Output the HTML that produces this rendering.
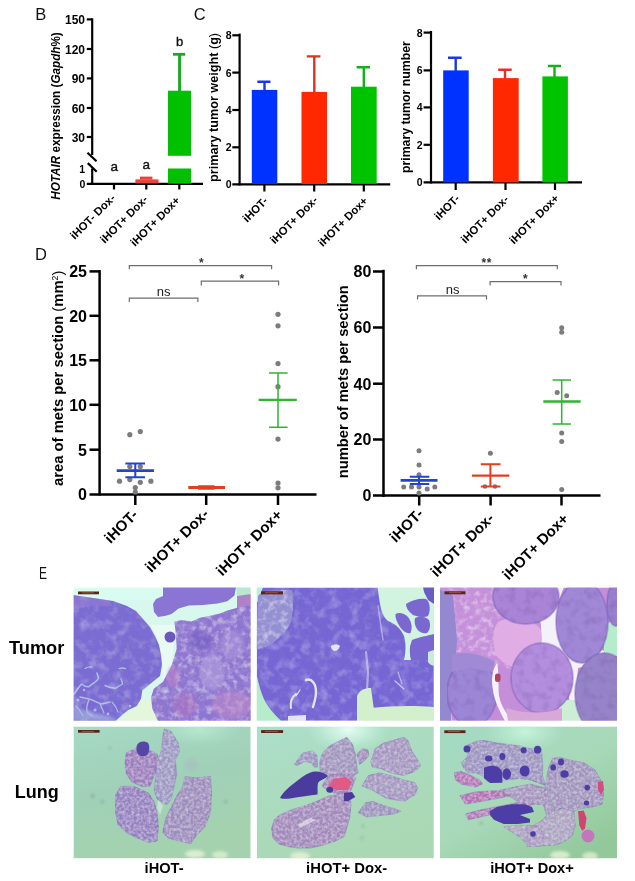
<!DOCTYPE html>
<html><head><meta charset="utf-8"><title>Figure</title>
<style>
html,body{margin:0;padding:0;background:#fff;}
svg{display:block;}
text{font-family:"Liberation Sans",Arial,sans-serif;fill:#000;}
.pl{font-size:16.5px;font-weight:normal;fill:#111;}
.ax line{stroke:#000;stroke-width:2.2;}
.axd line{stroke:#000;stroke-width:2.5;}
.tk text,.tk{font-weight:bold;}
.xl text,.xl{font-weight:bold;}
.yl{font-weight:bold;}
.ab text{fill:#111;stroke:#111;stroke-width:0.35px;}
.st text{fill:#333;}
.ns{fill:#222;}
.lab{font-weight:bold;}
</style></head><body>
<svg width="635" height="881" viewBox="0 0 635 881">
<rect width="635" height="881" fill="#fff"/>
<!-- ===== Panel B ===== -->
<text class="pl" x="35.3" y="19.8">B</text>
<g class="ax">
<line x1="92.2" y1="18.3" x2="92.2" y2="155"/>
<line x1="92.2" y1="168.5" x2="92.2" y2="185"/>
<line x1="87.5" y1="152.7" x2="96.5" y2="161.2"/>
<line x1="87.8" y1="163.1" x2="96.7" y2="171.8"/>
<line x1="86.8" y1="19.4" x2="92.2" y2="19.4"/>
<line x1="86.8" y1="49" x2="92.2" y2="49"/>
<line x1="86.8" y1="78.4" x2="92.2" y2="78.4"/>
<line x1="86.8" y1="108" x2="92.2" y2="108"/>
<line x1="86.8" y1="137" x2="92.2" y2="137"/>
<line x1="86.8" y1="183.8" x2="203" y2="183.8"/>
<line x1="114" y1="184" x2="114" y2="189.5"/>
<line x1="146.3" y1="184" x2="146.3" y2="189.5"/>
<line x1="179.3" y1="184" x2="179.3" y2="189.5"/>
</g>
<g class="tk" font-size="12" text-anchor="end">
<text x="85" y="24.2">150</text>
<text x="85" y="53.6">120</text>
<text x="85" y="83">90</text>
<text x="85" y="112.6">60</text>
<text x="85" y="141.6">30</text>
<text x="85" y="172.5" font-size="10.5">1</text>
<text x="85.3" y="187.6" font-size="10.5">0</text>
</g>
<rect x="135.4" y="179.4" width="23.1" height="4" fill="#e8433d"/>
<rect x="140" y="176.6" width="12.4" height="3" fill="#e8433d"/>
<rect x="168" y="90.7" width="23" height="65.1" fill="#00c000"/>
<rect x="168" y="168.5" width="23" height="15" fill="#00c000"/>
<line x1="179.6" y1="54.3" x2="179.6" y2="91" stroke="#1aaa22" stroke-width="3"/>
<line x1="173" y1="54.3" x2="185.2" y2="54.3" stroke="#1aaa22" stroke-width="2.8"/>
<g class="ab" font-size="13.5">
<text x="110.5" y="170.8">a</text>
<text x="142.6" y="168.9">a</text>
<text x="176" y="46" font-size="13">b</text>
</g><text class="yl" font-size="12" text-anchor="middle" textLength="167.5" lengthAdjust="spacingAndGlyphs" transform="translate(60,116) rotate(-90)"><tspan font-style="italic">HOTAIR</tspan> expression (<tspan font-style="italic">Gapdh</tspan>%)</text>

<!-- ===== Panel C left ===== -->
<text class="pl" x="193.7" y="19.8">C</text>
<g class="ax">
<line x1="239.6" y1="33.6" x2="239.6" y2="185.5"/>
<line x1="232.3" y1="35.3" x2="239.6" y2="35.3"/>
<line x1="232.3" y1="72.6" x2="239.6" y2="72.6"/>
<line x1="232.3" y1="110" x2="239.6" y2="110"/>
<line x1="232.3" y1="147.3" x2="239.6" y2="147.3"/>
<line x1="232.3" y1="184.4" x2="390.2" y2="184.4"/>
<line x1="264.4" y1="185" x2="264.4" y2="191.5"/>
<line x1="314.2" y1="185" x2="314.2" y2="191.5"/>
<line x1="363.8" y1="185" x2="363.8" y2="191.5"/>
</g>
<g class="tk" font-size="10.5" text-anchor="end">
<text x="231.6" y="39.3">8</text>
<text x="231.6" y="76.6">6</text>
<text x="231.6" y="114">4</text>
<text x="231.6" y="151.3">2</text>
<text x="231.6" y="188.4">0</text>
</g>
<rect x="251.8" y="89.9" width="25.5" height="94" fill="#0032ff"/>
<rect x="301.5" y="91.9" width="25.5" height="92" fill="#ff2800"/>
<rect x="351" y="86.7" width="25.7" height="97" fill="#00c300"/>
<g stroke-width="2.4">
<path d="M264.5 90V81.7M257.3 81.7H270.5" stroke="#1a3ae0"/>
<path d="M314.3 92V56.4M306.8 56.4H320.4" stroke="#dc3420"/>
<path d="M363.8 87V67.3M356.6 67.3H370" stroke="#14b01c"/>
</g>
<text class="yl" font-size="12.3" text-anchor="middle" textLength="149" lengthAdjust="spacingAndGlyphs" transform="translate(218,107.4) rotate(-90)">primary tumor weight  <tspan font-weight="normal">(</tspan>g<tspan font-weight="normal">)</tspan></text>

<!-- ===== Panel C right ===== -->
<g class="ax">
<line x1="431" y1="31" x2="431" y2="183.5"/>
<line x1="423.6" y1="32.6" x2="431" y2="32.6"/>
<line x1="423.6" y1="70.4" x2="431" y2="70.4"/>
<line x1="423.6" y1="107.4" x2="431" y2="107.4"/>
<line x1="423.6" y1="144.8" x2="431" y2="144.8"/>
<line x1="423.6" y1="182.4" x2="582" y2="182.4"/>
<line x1="455.7" y1="183" x2="455.7" y2="190"/>
<line x1="505.5" y1="183" x2="505.5" y2="190"/>
<line x1="555" y1="183" x2="555" y2="190"/>
</g>
<g class="tk" font-size="10.5" text-anchor="end">
<text x="422.5" y="36.6">8</text>
<text x="422.5" y="74.4">6</text>
<text x="422.5" y="111.4">4</text>
<text x="422.5" y="148.8">2</text>
<text x="422.5" y="186.4">0</text>
</g>
<rect x="443.2" y="70.4" width="25.5" height="112" fill="#0032ff"/>
<rect x="492.9" y="78.1" width="25.8" height="104.3" fill="#ff2800"/>
<rect x="542.4" y="76.4" width="25.5" height="106" fill="#00c300"/>
<g stroke-width="2.4">
<path d="M455.7 71V57.8M448 57.8H461.7" stroke="#1a3ae0"/>
<path d="M505 79V69.8M498.2 69.8H511.7" stroke="#dc3420"/>
<path d="M554.5 77V66M547.9 66H561" stroke="#14b01c"/>
</g>
<text class="yl" font-size="12.3" text-anchor="middle" transform="translate(410.4,107.1) rotate(-90)">primary tumor number</text>
<!-- ===== Panel D left ===== -->
<text class="pl" x="35" y="259.6">D</text>
<g class="axd">
<line x1="99.6" y1="270" x2="99.6" y2="495.5"/>
<line x1="89.5" y1="271.4" x2="99.6" y2="271.4"/>
<line x1="89.5" y1="315.8" x2="99.6" y2="315.8"/>
<line x1="89.5" y1="360.3" x2="99.6" y2="360.3"/>
<line x1="89.5" y1="404.8" x2="99.6" y2="404.8"/>
<line x1="89.5" y1="449.7" x2="99.6" y2="449.7"/>
<line x1="89.5" y1="494.6" x2="316.5" y2="494.6"/>
<line x1="135.3" y1="495" x2="135.3" y2="505"/>
<line x1="206.2" y1="495" x2="206.2" y2="505"/>
<line x1="278" y1="495" x2="278" y2="505"/>
</g>
<g class="tk" font-size="16" text-anchor="end">
<text x="87" y="277.4">25</text>
<text x="87" y="321.6">20</text>
<text x="87" y="366.1">15</text>
<text x="87" y="410.6">10</text>
<text x="87" y="455.5">5</text>
<text x="87" y="500.2">0</text>
</g>
<g fill="#7c7c7c">
<circle cx="129.8" cy="434.7" r="2.6"/><circle cx="140.3" cy="431.6" r="2.6"/>
<circle cx="129.8" cy="466.5" r="2.6"/><circle cx="140.3" cy="466.5" r="2.6"/>
<circle cx="119.5" cy="481.2" r="2.6"/><circle cx="129.8" cy="479.6" r="2.6"/>
<circle cx="140.3" cy="482.3" r="2.6"/><circle cx="150.9" cy="481.2" r="2.6"/>
<circle cx="135.3" cy="487.5" r="2.6"/><circle cx="135.3" cy="492" r="2.6"/>
<circle cx="278" cy="314.3" r="2.6"/><circle cx="278" cy="325.8" r="2.6"/>
<circle cx="278" cy="363.6" r="2.6"/><circle cx="278" cy="386.7" r="2.6"/>
<circle cx="278" cy="439.1" r="2.6"/><circle cx="278" cy="483" r="2.6"/>
<circle cx="278" cy="487.8" r="2.6"/>
</g>
<g stroke="#2244d0" fill="none">
<path d="M116.7 470.6H154" stroke-width="2.6"/>
<path d="M125.4 463.4H145M125.4 477.2H145M135.3 463.4V477.2" stroke-width="2"/>
</g>
<g stroke="#e0401e" fill="none">
<path d="M188.3 487.5H225" stroke-width="3"/>
<path d="M198 486H214.5M198 489H214.5" stroke-width="1.5"/>
</g>
<g stroke="#2fb52f" fill="none">
<path d="M258.6 399.9H296.8" stroke-width="2.4"/>
<path d="M269 373.1H287.6M269 427.2H287.6M278 373.1V427.2" stroke-width="1.5"/>
</g>
<g stroke="#6e6e6e" fill="none" stroke-width="1.2">
<path d="M129.3 269.3V265.6H271.6V269.3"/>
<path d="M201.3 285.4V281.2H278.6V285.4"/>
<path d="M129.3 301.9V298.2H197.9V301.9"/>
</g>
<g class="st" font-size="12" font-weight="bold" text-anchor="middle">
<text x="201.3" y="266.8">*</text>
<text x="241.8" y="282.8">*</text>
</g>
<text class="ns" x="163.6" y="296.2" font-size="13" text-anchor="middle">ns</text>
<text class="yl" font-size="14.4" text-anchor="middle" textLength="215.4" lengthAdjust="spacingAndGlyphs" transform="translate(63,378.3) rotate(-90)">area of mets per section <tspan font-weight="normal">(</tspan>mm<tspan font-size="8.5" dy="-5" font-weight="normal">2</tspan><tspan dy="5" font-weight="normal">)</tspan></text>

<!-- ===== Panel D right ===== -->
<g class="axd">
<line x1="383.5" y1="269.8" x2="383.5" y2="497"/>
<line x1="373" y1="271.5" x2="383.5" y2="271.5"/>
<line x1="373" y1="327.5" x2="383.5" y2="327.5"/>
<line x1="373" y1="383.7" x2="383.5" y2="383.7"/>
<line x1="373" y1="439.5" x2="383.5" y2="439.5"/>
<line x1="373" y1="495.4" x2="600.5" y2="495.4"/>
<line x1="419.2" y1="496" x2="419.2" y2="505.5"/>
<line x1="490.6" y1="496" x2="490.6" y2="505.5"/>
<line x1="561.5" y1="496" x2="561.5" y2="505.5"/>
</g>
<g class="tk" font-size="16" text-anchor="end">
<text x="371.3" y="277.3">80</text>
<text x="371.3" y="333.3">60</text>
<text x="371.3" y="389.5">40</text>
<text x="371.3" y="445.3">20</text>
<text x="371.3" y="501.2">0</text>
</g>
<g fill="#7c7c7c">
<circle cx="419" cy="450.8" r="2.5"/><circle cx="419" cy="465.1" r="2.5"/>
<circle cx="419" cy="474.7" r="2.5"/><circle cx="403.7" cy="487" r="2.5"/>
<circle cx="411.5" cy="487" r="2.5"/><circle cx="419" cy="487" r="2.5"/>
<circle cx="427.2" cy="489" r="2.5"/><circle cx="434.8" cy="487" r="2.5"/>
<circle cx="419" cy="493.1" r="2.5"/>
<circle cx="490.4" cy="453.2" r="2.5"/><circle cx="485" cy="486.5" r="2.3"/><circle cx="495" cy="486.5" r="2.3"/>
<circle cx="561.7" cy="327.7" r="2.5"/><circle cx="561.7" cy="332.2" r="2.5"/>
<circle cx="557.2" cy="392.5" r="2.5"/><circle cx="566.7" cy="395.7" r="2.5"/>
<circle cx="561.7" cy="433" r="2.5"/><circle cx="561.7" cy="441.6" r="2.5"/>
<circle cx="561.7" cy="489.5" r="2.5"/>
</g>
<g stroke="#2244d0" fill="none">
<path d="M400.6 480.4H437.5" stroke-width="2.6"/>
<path d="M409.8 476.8H429.3M409.8 483.9H429.3M419 476.8V483.9" stroke-width="2"/>
</g>
<g stroke="#e0401e" fill="none">
<path d="M472 475.6H509.3" stroke-width="2.4"/>
<path d="M480.8 464.3H500.5M480.8 486.4H500.5M490.4 464.3V486.4" stroke-width="2"/>
</g>
<g stroke="#2fb52f" fill="none">
<path d="M543.3 401.5H580.6" stroke-width="2.4"/>
<path d="M552.6 379.9H571M552.6 424H571M561.7 379.9V424" stroke-width="1.5"/>
</g>
<g stroke="#6e6e6e" fill="none" stroke-width="1.2">
<path d="M416.4 269.3V265.6H557.3V269.3"/>
<path d="M490.1 285.4V281.7H561V285.4"/>
<path d="M417.6 299.6V295.9H486.5V299.6"/>
</g>
<g class="st" font-size="12" font-weight="bold" text-anchor="middle">
<text x="486.8" y="266.8" letter-spacing="0.6">**</text>
<text x="525.3" y="282.8">*</text>
</g>
<text class="ns" x="452.7" y="294" font-size="13" text-anchor="middle">ns</text>
<text class="yl" font-size="14.5" text-anchor="middle" textLength="193" lengthAdjust="spacingAndGlyphs" transform="translate(348,381.8) rotate(-90)">number of mets per section</text>
<g class="xl" text-anchor="end">
<text font-size="11.31" transform="translate(116.1,198.8) rotate(-45)">iHOT- Dox-</text>
<text font-size="11.31" transform="translate(148.5,200.2) rotate(-45)">iHOT+ Dox-</text>
<text font-size="11.31" transform="translate(180.7,201.2) rotate(-45)">iHOT+ Dox+</text>
<text font-size="11.31" transform="translate(268.5,201.7) rotate(-45)">iHOT-</text>
<text font-size="11.31" transform="translate(318.4,200.9) rotate(-45)">iHOT+ Dox-</text>
<text font-size="11.31" transform="translate(368.5,201.6) rotate(-45)">iHOT+ Dox+</text>
<text font-size="11.31" transform="translate(460.4,199.4) rotate(-45)">iHOT-</text>
<text font-size="11.31" transform="translate(509.3,200.2) rotate(-45)">iHOT+ Dox-</text>
<text font-size="11.31" transform="translate(559.7,199.0) rotate(-45)">iHOT+ Dox+</text>
<text font-size="15.08" transform="translate(138.9,515.8) rotate(-45)">iHOT-</text>
<text font-size="15.08" transform="translate(209.7,515.0) rotate(-45)">iHOT+ Dox-</text>
<text font-size="15.08" transform="translate(283.2,515.8) rotate(-45)">iHOT+ Dox+</text>
<text font-size="15.08" transform="translate(424.3,514.7) rotate(-45)">iHOT-</text>
<text font-size="15.08" transform="translate(495.1,519.3) rotate(-45)">iHOT+ Dox-</text>
<text font-size="15.08" transform="translate(569.5,519.7) rotate(-45)">iHOT+ Dox+</text>
</g>
<defs>
<clipPath id="c1"><rect x="73.6" y="587.6" width="177.1" height="133.2"/></clipPath>
<clipPath id="c2"><rect x="256.7" y="587.5" width="177.3" height="133.3"/></clipPath>
<clipPath id="c3"><rect x="440" y="587.5" width="177" height="133.3"/></clipPath>
<clipPath id="c4"><rect x="73.6" y="726.4" width="177.1" height="132"/></clipPath>
<clipPath id="c5"><rect x="256.7" y="726.4" width="177.3" height="132"/></clipPath>
<clipPath id="c6"><rect x="440" y="726.4" width="177" height="132"/></clipPath>
<filter id="tx" x="0" y="0" width="1" height="1">
<feTurbulence type="fractalNoise" baseFrequency="0.45" numOctaves="2" seed="3" result="n"/>
<feColorMatrix in="n" type="matrix" values="0 0 0 0 1  0 0 0 0 1  0 0 0 0 1  0.55 0 0 0 -0.2" result="w"/>
<feComposite in="w" in2="SourceGraphic" operator="in" result="wi"/>
<feMerge><feMergeNode in="SourceGraphic"/><feMergeNode in="wi"/></feMerge>
</filter>
<filter id="tx2" x="0" y="0" width="1" height="1">
<feTurbulence type="fractalNoise" baseFrequency="0.12" numOctaves="2" seed="7" result="n"/>
<feColorMatrix in="n" type="matrix" values="0 0 0 0 0.2  0 0 0 0 0.1  0 0 0 0 0.4  0 1.0 0 0 -0.45" result="w"/>
<feComposite in="w" in2="SourceGraphic" operator="in" result="wi"/>
<feMerge><feMergeNode in="SourceGraphic"/><feMergeNode in="wi"/></feMerge>
</filter>
<filter id="txl" x="0" y="0" width="1" height="1">
<feTurbulence type="fractalNoise" baseFrequency="0.35" numOctaves="2" seed="11" result="n"/>
<feColorMatrix in="n" type="matrix" values="0 0 0 0 0.95  0 0 0 0 0.93  0 0 0 0 1  0.85 0 0 0 -0.3" result="w"/>
<feComposite in="w" in2="SourceGraphic" operator="in" result="wi"/>
<feColorMatrix in="n" type="matrix" values="0 0 0 0 0.35  0 0 0 0 0.25  0 0 0 0 0.55  0 0 0.8 0 -0.4" result="d"/>
<feComposite in="d" in2="SourceGraphic" operator="in" result="di"/>
<feMerge><feMergeNode in="SourceGraphic"/><feMergeNode in="wi"/><feMergeNode in="di"/></feMerge>
</filter>
<filter id="txb" x="0" y="0" width="1" height="1">
<feTurbulence type="fractalNoise" baseFrequency="0.16" numOctaves="3" seed="5" result="n"/>
<feColorMatrix in="n" type="matrix" values="0 0 0 0 0.94  0 0 0 0 0.9  0 0 0 0 1  1.1 0 0 0 -0.5" result="w"/>
<feComposite in="w" in2="SourceGraphic" operator="in" result="wi"/>
<feColorMatrix in="n" type="matrix" values="0 0 0 0 0.42  0 0 0 0 0.3  0 0 0 0 0.72  0 0 1.1 0 -0.52" result="d"/>
<feComposite in="d" in2="SourceGraphic" operator="in" result="di"/>
<feMerge><feMergeNode in="SourceGraphic"/><feMergeNode in="wi"/><feMergeNode in="di"/></feMerge>
</filter>
<filter id="txs" x="0" y="0" width="1" height="1">
<feTurbulence type="fractalNoise" baseFrequency="0.1" numOctaves="3" seed="21" result="n"/>
<feColorMatrix in="n" type="matrix" values="0 0 0 0 0.7  0 0 0 0 0.66  0 0 0 0 0.95  0.7 0 0 0 -0.33" result="w"/>
<feComposite in="w" in2="SourceGraphic" operator="in" result="wi"/>
<feColorMatrix in="n" type="matrix" values="0 0 0 0 0.3  0 0 0 0 0.25  0 0 0 0 0.6  0 0 0.6 0 -0.32" result="d"/>
<feComposite in="d" in2="SourceGraphic" operator="in" result="di"/>
<feMerge><feMergeNode in="SourceGraphic"/><feMergeNode in="wi"/><feMergeNode in="di"/></feMerge>
</filter>
<filter id="bl"><feGaussianBlur stdDeviation="0.7"/></filter>
<filter id="bl2"><feGaussianBlur stdDeviation="1.5"/></filter>
<linearGradient id="g4" x1="0" y1="0" x2="0.3" y2="1"><stop offset="0" stop-color="#a6dac4"/><stop offset="0.5" stop-color="#a0d0b8"/><stop offset="1" stop-color="#a4d2ae"/></linearGradient>
<linearGradient id="g5" x1="0" y1="0" x2="0.4" y2="1"><stop offset="0" stop-color="#acdfca"/><stop offset="1" stop-color="#aad8b4"/></linearGradient>
<linearGradient id="g6" x1="0" y1="0" x2="0.8" y2="1"><stop offset="0" stop-color="#a4dac4"/><stop offset="0.55" stop-color="#a8d8b8"/><stop offset="1" stop-color="#92c89a"/></linearGradient>
<radialGradient id="s1"><stop offset="0" stop-color="#eafff6" stop-opacity="0.95"/><stop offset="0.45" stop-color="#d8f8ea" stop-opacity="0.6"/><stop offset="1" stop-color="#c0f0d8" stop-opacity="0"/></radialGradient>
<radialGradient id="s2"><stop offset="0" stop-color="#c8f8dc" stop-opacity="0.9"/><stop offset="1" stop-color="#c0f0d8" stop-opacity="0"/></radialGradient>
</defs>
<!-- image 1: tumor iHOT- -->
<g clip-path="url(#c1)"><g filter="url(#bl)">
<rect x="73.3" y="587.5" width="177.4" height="133.3" fill="#d8f8ee"/>
<path d="M73 600 L73 587 L240 587 L240 600 Z" fill="#d8fcf2"/>
<path d="M150 625 C160 640 165 660 163 680 L152 700 L150 721 L160 721 L172 660 L176 625 Z" fill="#e8faf2"/>
<path d="M140 700 L160 700 L160 721 L120 721 Z" fill="#e4f6dc"/>
<g filter="url(#txs)">
<path d="M73 595 L93 598 L113 601 L127 606 L136 611 L143 619 L150 627 L155 636 L159 645 L161 655 L162 665 L160 676 L149.5 684.6 L142.4 690.3 L141 698.8 L136.8 706 L128.3 710 L122.6 714.4 L115.5 721 L73 721 Z" fill="#7a6cd2"/>
</g>
<path d="M73 596 L93 598 L110 601 L112 606 L90 606 L73 610 Z" fill="#9a80d0" opacity="0.5"/>
<g fill="none" stroke="#c4e0ea" stroke-linecap="round" stroke-linejoin="round" opacity="0.7" filter="url(#bl)">
<path d="M74 694 Q78 688 81.5 684 Q85 687 88.6 686.8 Q92 684 94.3 682.6 Q97 681 98.5 678.3 Q98 676 97 673" stroke-width="1.6"/>
<path d="M80 697 Q86 698 91.4 699.6 Q96 702 101.3 703.9 Q106 703 110 702" stroke-width="1.5"/>
<path d="M105 685.5 Q110 688 115.5 688.3 Q119 686 122.6 684 Q122 681 121 679" stroke-width="1.4"/>
<path d="M85 668.5 Q88 666.5 92 667" stroke-width="1.3"/>
<path d="M119 668.5 Q122 667.5 125.5 668.5" stroke-width="1.3"/>
<path d="M89 700 Q86 706 87 712 Q89 715 93 716" stroke-width="1.3"/>
<path d="M100 704 Q102 708 104 713" stroke-width="1.2"/>
<path d="M112 702 Q116 706 118 712" stroke-width="1.1"/>
<path d="M76 706 Q80 710 83 716" stroke-width="1.2"/>
</g>
<g fill="#c8e4ec" opacity="0.65" filter="url(#bl)">
<circle cx="78" cy="700" r="1.6"/><circle cx="95" cy="710" r="1.5"/><circle cx="108" cy="714" r="1.4"/><circle cx="84" cy="690" r="1.2"/><circle cx="130" cy="706" r="1.3"/>
</g>
<path d="M73 706 L90 712 L110 716 L120 721 L73 721 Z" fill="#a8b8e0" opacity="0.6" filter="url(#bl2)"/>
<path d="M153 604 L156 599 L163 596 L163 587 L236 587 L234.5 595.6 L227.4 601.3 L217.3 603.5 L203 605 L188.7 605.6 L178.6 608.5 L171.5 614 L165.7 615.7 L158 617 L154 612 Z" fill="#8a74d4"/>
<path d="M236 587 L251 587 L251 595 L237 596 Z" fill="#b8e8d0"/>
<path d="M237 596 L251 594 L251 609 L237 608.5 Z" fill="#b080c8"/>
<g filter="url(#txb)">
<path d="M174.3 621.4 L181.5 620 L191.5 621.4 L200 617.8 L210 615.7 L220 613.5 L227.4 610.6 L234.5 608.5 L240 607 L251 605 L251 721 L158 721 L152.4 708.7 L151 697.4 L153.8 688.8 L163 681.8 L166 676 L171.5 666 L176.7 648.7 L176 635 Z" fill="#8e76d0"/>
</g>
<g filter="url(#bl2)">
<ellipse cx="173" cy="677" rx="6" ry="11" fill="#c080c8" opacity="0.55"/>
<ellipse cx="212" cy="672" rx="12" ry="18" fill="#b4a4e0" opacity="0.55"/>
<ellipse cx="232" cy="705" rx="20" ry="14" fill="#c088c8" opacity="0.55"/>
<ellipse cx="185" cy="705" rx="12" ry="12" fill="#b070c0" opacity="0.5"/>
<ellipse cx="232" cy="645" rx="12" ry="14" fill="#b4a0dc" opacity="0.45"/>
<ellipse cx="200" cy="640" rx="12" ry="10" fill="#6e58c0" opacity="0.5"/>
</g>
<circle cx="170" cy="637" r="5.5" fill="#6a58c0"/>
</g>
<rect x="78" y="591.5" width="21" height="2.8" fill="#5a2418"/>
<rect x="82" y="592.5" width="12" height="0.8" fill="#a06050"/>
</g>
<!-- image 2: tumor iHOT+ Dox- -->
<g clip-path="url(#c2)"><g filter="url(#bl)">
<g filter="url(#txs)"><rect x="256.7" y="587.5" width="177" height="133.3" fill="#7666d4"/></g>
<path d="M256 587 L263 587 L258 602 L256 602 Z" fill="#b8f0d8"/>
<g filter="url(#txb)">
<path d="M258 596 C262 591 270 590 292 590 C294 600 293 612 291 622 C286 632 278 640 268 646 C263 648 258 649 256 649 Z" fill="#9290d2"/>
</g>
<path d="M256 671 C258 682 261 694 266 703 C270 710 276 716 281.2 721 L256 721 Z" fill="#b6eccc"/>
<path d="M377.5 587 L425 587 C428 590 432 596 434 600 L434 640 C430 636 420 637 412 640 C409 648 410 655 411 660 L404 660 C406 650 406 644 404 636 C401 629 396 624 388 621 C383 617 381 610 379.5 601 Z" fill="#d0f4e0"/>
<g fill="#7a68d0">
<path d="M406 604 C412 600 420 598 426 599 C430 602 431 610 428 616 C424 618 418 617 413 615 C409 612 406 608 406 604 Z"/>
<path d="M395.5 614 C399 612 404 613 408 617 C411 621 413 627 410.5 633 C407 634 403 631 400 627 C397 622 395 618 395.5 614 Z"/>
<path d="M415 618 C419 616 425 616 429 620 C431 625 430 630 427 633 C423 634 419 632 417 629 C415 626 414 622 415 618 Z"/>
<path d="M410 647 C411 641 418 637 426 636 C430 635 433 634 434 634 L434 660 L411.5 660 C410 656 409.5 651 410 647 Z"/>
</g>
<path d="M357 696 C360 690 364 688 371 688 L373.7 707.7 C390 706 410 705 434 707 L434 721 L357 721 Z" fill="#d2f0cc"/>
<path d="M423 587 L434 587 L434 604 L428 600 L424 592 Z" fill="#6a5cc0"/>
<path d="M428 652 C431 651 433 650 434 650 L434 666 C431 665 429 664 428 662 Z" fill="#c8ecd8"/>
<g fill="none" stroke="#e4e2f6" stroke-linecap="round" filter="url(#bl)">
<path d="M306 680 C312 678 316 684 316 692 C316 698 314 703 313 707" stroke-width="2.4"/>
<path d="M291 708 C290 702 292 697 296 694" stroke-width="2"/>
<path d="M296 696 L300 690" stroke-width="1.2"/>
<path d="M366 652 L368 672 L367 690" stroke-width="2.2" opacity="0.55"/>
<path d="M395 681 L404 689" stroke-width="1.5" opacity="0.7"/>
<path d="M398 672 L402 684" stroke-width="1.2" opacity="0.6"/>
<path d="M378 606 L383 640" stroke-width="1.5" opacity="0.5"/>
</g>
<g fill="#e4e2f6">
<path d="M331 646 C334 644 338 644 340 646 C339 649 337 651 334 651 C332 650 331 648 331 646 Z"/>
<path d="M288 716 L306 715 L306 721 L288 721 Z"/>
</g>
</g>
<rect x="261" y="591.3" width="22" height="3.1" fill="#5a2418"/>
<rect x="265" y="592.4" width="13" height="0.8" fill="#a06050"/>
</g>
<!-- image 3: tumor iHOT+ Dox+ -->
<g clip-path="url(#c3)"><g filter="url(#bl)">
<rect x="440" y="587.5" width="177" height="133.3" fill="#c48ed8"/>
<path d="M556 587 L564 587 L558 602 L560 615 L566 630 L570 648 L575 660 L594 657 L602 650 L606 652 L596 664 L578 668 L576 690 L580 708 L586 721 L574 721 L570 706 L568 688 L566 668 L556 652 L540 648 L530 640 L532 626 L546 614 L552 604 Z" fill="#f4f2f8"/>
<path d="M604 624 L618 620 L618 656 L604 656 Z" fill="#b4eccc"/>
<path d="M558 700 L582 700 L584 721 L560 721 Z" fill="#cdeed4"/>
<path d="M440 712 L452 710 L452 721 L440 721 Z" fill="#b8e4c8"/>
<g filter="url(#txb)">
<path d="M440 587 L505 587 C508 600 522 612 538 615 C545 630 540 650 530 668 C515 672 505 668 498 666 C492 663 480 660 470 655 L450 650 L440 650 Z" fill="#c890da"/>
</g>
<path d="M498 622 C510 615 528 618 540 628 C545 640 540 658 528 666 C515 670 503 665 496 655 C492 642 492 630 498 622 Z" fill="#e0aee4"/>
<path d="M440 590 L453 595 L457 640 L453 690 L451 721 L440 721 Z" fill="#9488d0"/>
<g filter="url(#tx2)" stroke="#7658bc" stroke-width="1.8" stroke-opacity="0.4">
<ellipse cx="526" cy="597" rx="33" ry="27" fill="#aa84d6"/>
<ellipse cx="582" cy="622" rx="26" ry="41" fill="#a088d6"/>
<ellipse cx="616" cy="604" rx="9" ry="22" fill="#9a80d0"/>
<ellipse cx="604" cy="694" rx="29" ry="41" fill="#9684c8"/>
<ellipse cx="542" cy="678" rx="31" ry="35" fill="#b48ede"/>
<ellipse cx="472" cy="693" rx="25" ry="33" fill="#9c86d6"/>
</g>
<path d="M452 655 C465 650 485 655 495 662 L492 672 L470 668 L452 672 Z" fill="#a08ad6"/>
<path d="M497 663 C500 675 497 690 500 700 C503 710 509 716 513 721 L505 721 C500 712 494 700 493 690 C491 680 492 670 497 663 Z" fill="#f6f0f8"/>
<path d="M506 708 C525 714 545 714 562 708 L562 721 L508 721 Z" fill="#d8a8d8"/>
<rect x="495" y="673.5" width="5.5" height="8.5" rx="2.5" fill="#b8405e"/>
</g>
<rect x="444.5" y="591.3" width="21" height="3" fill="#5a2418"/>
<rect x="449" y="592.3" width="12" height="0.8" fill="#a06050"/>
</g>
<!-- image 4: lung iHOT- -->
<g clip-path="url(#c4)"><g filter="url(#bl)">
<rect x="73.3" y="726.4" width="177.4" height="132" fill="url(#g4)"/>
<ellipse cx="200" cy="730" rx="40" ry="16" fill="url(#s2)" opacity="0.6"/>
<g filter="url(#bl2)" opacity="0.8">
<ellipse cx="195" cy="854" rx="10" ry="4" fill="#e8f4d8"/>
<ellipse cx="220" cy="855" rx="8" ry="4" fill="#e0f0d0"/>
<circle cx="92.6" cy="796" r="2" fill="#80a8a0"/>
<circle cx="102.4" cy="801.8" r="1.8" fill="#80a8a0"/>
<circle cx="225.8" cy="801.8" r="1.8" fill="#80a8a0"/>
<circle cx="110" cy="748" r="1.5" fill="#88b0a8"/>
</g>
<g filter="url(#txl)" stroke="#7a68b0" stroke-width="0.9" stroke-opacity="0.55">
<path d="M126.3 752.7 L136 748.4 L148.7 749.8 L157.1 754 L159.9 765.3 L154.3 775.1 L150.1 786.3 L141.7 786.3 L131.9 782.1 L126.3 773.7 L124.9 762.5 Z" fill="#9c7cbc"/>
<path d="M164.1 728.8 L171.1 731.6 L178.1 742.8 L179.5 751.3 L175.3 759.7 L176.7 773.7 L173.9 787.7 L171.1 799 L166.9 804.6 L157.1 799 L154.3 790.5 L155.7 776.5 L157.1 762.5 L161.3 751.3 L162.7 737.2 Z" fill="#9c98c2"/>
<path d="M120.7 786.3 L133.3 786.3 L140.3 789.1 L148.7 793.3 L154.3 801.8 L157.1 813 L158.5 827 L157.1 841 L148.7 842.4 L137.5 838.2 L126.3 832.6 L117.9 824.2 L115 810.2 L115 796.1 Z" fill="#9480c0"/>
<path d="M185.1 776.5 L196.3 777.9 L210.4 776.5 L211.8 796.1 L210.4 813 L204.8 827 L196.3 835.4 L190.7 843.8 L179.5 841 L168.3 838.2 L162.7 832.6 L165.5 818.6 L171.1 807.4 L176.7 796.1 L182.3 787.7 Z" fill="#9c8cbc"/>
</g>
<path d="M186 760 L196 758 L199 766 L192 771 L185 768 Z" fill="#b0b0c4" opacity="0.35" filter="url(#bl2)"/>
<path d="M137 745 C139 741 145 740.5 148 743 C150 746 149.5 751 147.5 754.5 C145 757 140 757 138 754 C136 751 136 748 137 745 Z" fill="#5646a6"/>
<path d="M158 800 L163 806 L160 815 L157 808 Z" fill="#f0f0f0" opacity="0.5"/>
</g>
<rect x="78" y="730" width="21.6" height="2.7" fill="#5a2418"/>
<rect x="82" y="730.9" width="12" height="0.8" fill="#a06050"/>
</g>
<!-- image 5: lung iHOT+ Dox- -->
<g clip-path="url(#c5)"><g filter="url(#bl)">
<rect x="256.7" y="726.4" width="177" height="132" fill="url(#g5)"/>
<ellipse cx="348" cy="730" rx="42" ry="22" fill="url(#s1)"/>
<g filter="url(#bl2)" opacity="0.8">
<ellipse cx="300" cy="856" rx="10" ry="4" fill="#e8f4d8"/>
<circle cx="363" cy="826" r="1.6" fill="#88b0a0"/>
<circle cx="362" cy="838" r="1.6" fill="#88b0a0"/>
</g>
<g filter="url(#txl)" stroke="#7a68b0" stroke-width="0.9" stroke-opacity="0.55">
<path d="M294.3 764.3 L302.8 753 L312.7 750.8 L317 755.8 L317.6 767.1 L314.1 767.1 L311.3 762.8 L304.2 761.4 L297.1 765.7 Z" fill="#9c94c0"/>
<path d="M319.8 761.4 L322.6 753 L329.7 745.8 L341 740.2 L346.8 737.3 L352.5 744.4 L355.3 754.3 L356.8 765.7 L358.2 772.8 L350 778 L335 776 L320 772 Z" fill="#a094bc"/>
<path d="M356.8 754.3 L362.4 748.7 L368 750.1 L368.8 755.8 L363.8 761.4 L359.6 764.3 Z" fill="#a48cbc"/>
<path d="M370.9 761.4 L375.2 748.7 L383.7 743 L393.6 740.2 L403.5 737.3 L407.8 740.2 L412 751.5 L417.7 760 L420.5 765.7 L414.9 771.4 L403.5 775.6 L390.8 772.8 L380.8 768.5 L372.3 767.1 Z" fill="#a496c0"/>
<path d="M368.1 775.6 L379.4 772.8 L390.8 775.6 L403.5 779.9 L414.9 782.7 L417.7 788.4 L414.9 795 L410.6 797 L405 801.3 L386.5 798.5 L372.3 790 L362 786 Z" fill="#a498c0"/>
<path d="M358.2 812.7 L365.3 802.8 L372.3 801.3 L383.7 805.6 L393.6 808.4 L400.7 811.3 L393.6 814.1 L379.4 815.5 L366.7 816.9 Z" fill="#9c94bc"/>
<path d="M271.6 828.3 L274.4 819.8 L278.7 815.5 L291.4 809.8 L305.6 805.6 L316.9 801.3 L322.6 798.5 L329.7 795.7 L341 794.3 L348.3 790 L351 804.2 L349.7 818.3 L344 836.8 L335.4 841 L322.6 845.3 L309.9 848.1 L298.5 848.1 L288.6 846.7 L278.7 843.9 L273 838.2 Z" fill="#a288ba"/>
<path d="M328 776 L345 772 L356 778 L350 792 L340 794 L330 792 L322 786 Z" fill="#a884ba"/>
</g>
<path d="M333 779 L346 777 L352 782 L348 790 L336 790 L329 786 Z" fill="#e05a86"/>
<path d="M280 798 C283 792 290 786 297 781 C303 776 309 772 315 771.5 C320 771.5 326 773.5 328 776 C325 779 320 780 318 783 C317 787 318 791 317.5 794.5 C310 795.5 300 796.5 290 798.5 C286 799 282 799 280 798 Z" fill="#4c3a9e"/>
<ellipse cx="329.8" cy="789.8" rx="3.5" ry="3" fill="#4c3a9e"/>
<path d="M344 793 L352 792 L355.3 797 L348 801.3 L344 801 Z" fill="#4c3a9e"/>
<path d="M298 825 L310 818 L316 820 L300 828 Z" fill="#f0f0f4" opacity="0.6"/>
</g>
<rect x="261.1" y="730.1" width="22" height="2.9" fill="#5a2418"/>
<rect x="265" y="731" width="13" height="0.8" fill="#a06050"/>
</g>
<!-- image 6: lung iHOT+ Dox+ -->
<g clip-path="url(#c6)"><g filter="url(#bl)">
<rect x="440" y="726.4" width="177" height="132" fill="url(#g6)"/>
<ellipse cx="525" cy="732" rx="40" ry="20" fill="url(#s2)"/>
<g filter="url(#bl2)" opacity="0.8">
<ellipse cx="560" cy="855" rx="10" ry="4" fill="#e8f4d8"/>
<ellipse cx="590" cy="856" rx="8" ry="4" fill="#e0f0d0"/>
<circle cx="481" cy="823" r="1.6" fill="#80a898"/>
</g>
<g filter="url(#txl)" stroke="#7a68b0" stroke-width="0.9" stroke-opacity="0.55">
<path d="M464.1 746.5 L475.4 741.6 L482.5 740.2 L496.7 743 L508 744.4 L519.4 745.8 L530 748.7 L541.2 748.7 L542.6 762.8 L542.6 775.6 L545.4 785.5 L530 779.9 L519.4 778.4 L508 779.9 L496.7 782 L486.8 781.3 L482.5 775.6 L475.4 772.8 L468.3 772.8 L464.1 768.5 L461.3 762.8 L466.9 757.2 L468.3 752.9 Z" fill="#9c94c0"/>
<path d="M454.2 772.8 L461.3 771.4 L468.3 774.2 L479.7 779.9 L482.5 784.1 L475.4 786.9 L461.3 784.1 L455.6 779.9 Z" fill="#b870b8"/>
<path d="M459.8 795.7 L475 792 L490 791 L511 790 L520 788 L528 792 L510.9 795.7 L496.7 798.5 L482.5 801.3 L465.5 804.2 Z" fill="#b470b4"/>
<path d="M465.5 814 L480 810 L500 806 L520 802 L530 800 L535 804 L520 808 L500 812 L485 816 L468.3 819.8 Z" fill="#b474b8"/>
<path d="M548.3 768.5 L552.5 758.6 L559.6 757.2 L569.5 760 L583.7 762.8 L595 769.9 L600.7 779.9 L603.5 788.4 L603.5 795 L602 804.2 L592.2 807 L580.9 808.4 L573.8 811.3 L562.4 808.4 L552.5 811.3 L546.8 815.5 L542 800 L545.4 785.5 Z" fill="#a094bc"/>
<path d="M503.8 826.8 L518 825.4 L530 826.8 L540 822 L546.8 815.5 L552.5 811.3 L562.4 808.4 L573.8 811.3 L575.2 825.4 L572.4 835.4 L565.3 841 L555.3 845.3 L548.3 845.3 L530 846.7 L519.4 836.8 Z" fill="#aca4c0"/>
<path d="M527 825.4 L540 826 L544 836.8 L538 846.7 L527 846.7 Z" fill="#ac9cc0"/>
<path d="M500 790 L530 784 L545 788 L545 805 L520 803 Z" fill="#a494bc"/>
</g>
<g fill="#4e3ea6">
<path d="M484 768 C490 764 500 765 502 772 L502.4 782.7 L490 783 L484 778 Z"/>
<ellipse cx="467" cy="749" rx="3.5" ry="3.5"/>
<ellipse cx="488.7" cy="758.6" rx="3.7" ry="3"/>
<ellipse cx="502.4" cy="756.5" rx="3" ry="3.5"/>
<ellipse cx="523.6" cy="750.2" rx="3" ry="3"/>
<ellipse cx="506.7" cy="774" rx="4.3" ry="5.7"/>
<ellipse cx="524.7" cy="771" rx="5" ry="5.5"/>
<ellipse cx="537.6" cy="749.7" rx="3.6" ry="3.9"/>
<ellipse cx="553.2" cy="767.4" rx="2.8" ry="3.2"/>
<ellipse cx="561" cy="762" rx="3" ry="3.5"/>
<ellipse cx="564.5" cy="774" rx="4.2" ry="3.8"/>
<ellipse cx="587.2" cy="787.6" rx="2.8" ry="2.8"/>
<ellipse cx="586.5" cy="803" rx="2.8" ry="2.5"/>
<ellipse cx="533" cy="834" rx="2.8" ry="2.8"/>
<path d="M489.6 811.3 L496.7 807 L510.9 804.2 L525 804.2 L532 807 L534 812 L520 815 L530 819 L530 822.6 L518 824 L503.8 824 L493.9 819.8 L490.3 815.5 Z"/>
</g>
<path d="M578 811.3 L583.7 810.6 L586.5 818.3 L585.1 828.3 L582.3 831.1 L579.4 825.4 Z" fill="#d04472"/>
<circle cx="588" cy="836" r="6.4" fill="#c474bc"/>
<path d="M598 782 L603 781 L604 790 L601 795 L598 790 Z" fill="#d05080"/>
</g>
<rect x="444.3" y="730.3" width="21.2" height="2.8" fill="#5a2418"/>
<rect x="448" y="731.2" width="12" height="0.8" fill="#a06050"/>
</g>
<!-- ===== Panel E ===== -->
<text class="pl" x="39" y="579.4" textLength="8" lengthAdjust="spacingAndGlyphs">E</text>
<text class="lab" x="9" y="653.6" font-size="17.8" textLength="55.3" lengthAdjust="spacingAndGlyphs">Tumor</text>
<text class="lab" x="14.8" y="798.1" font-size="18.4" textLength="44" lengthAdjust="spacingAndGlyphs">Lung</text>
<g class="lab" font-size="14" text-anchor="middle">
<text x="164.1" y="873.2" textLength="39" lengthAdjust="spacingAndGlyphs">iHOT-</text>
<text x="346.6" y="873.2" textLength="81" lengthAdjust="spacingAndGlyphs">iHOT+ Dox-</text>
<text x="532" y="873.2" textLength="83.5" lengthAdjust="spacingAndGlyphs">iHOT+ Dox+</text>
</g>
</svg>
</body></html>
